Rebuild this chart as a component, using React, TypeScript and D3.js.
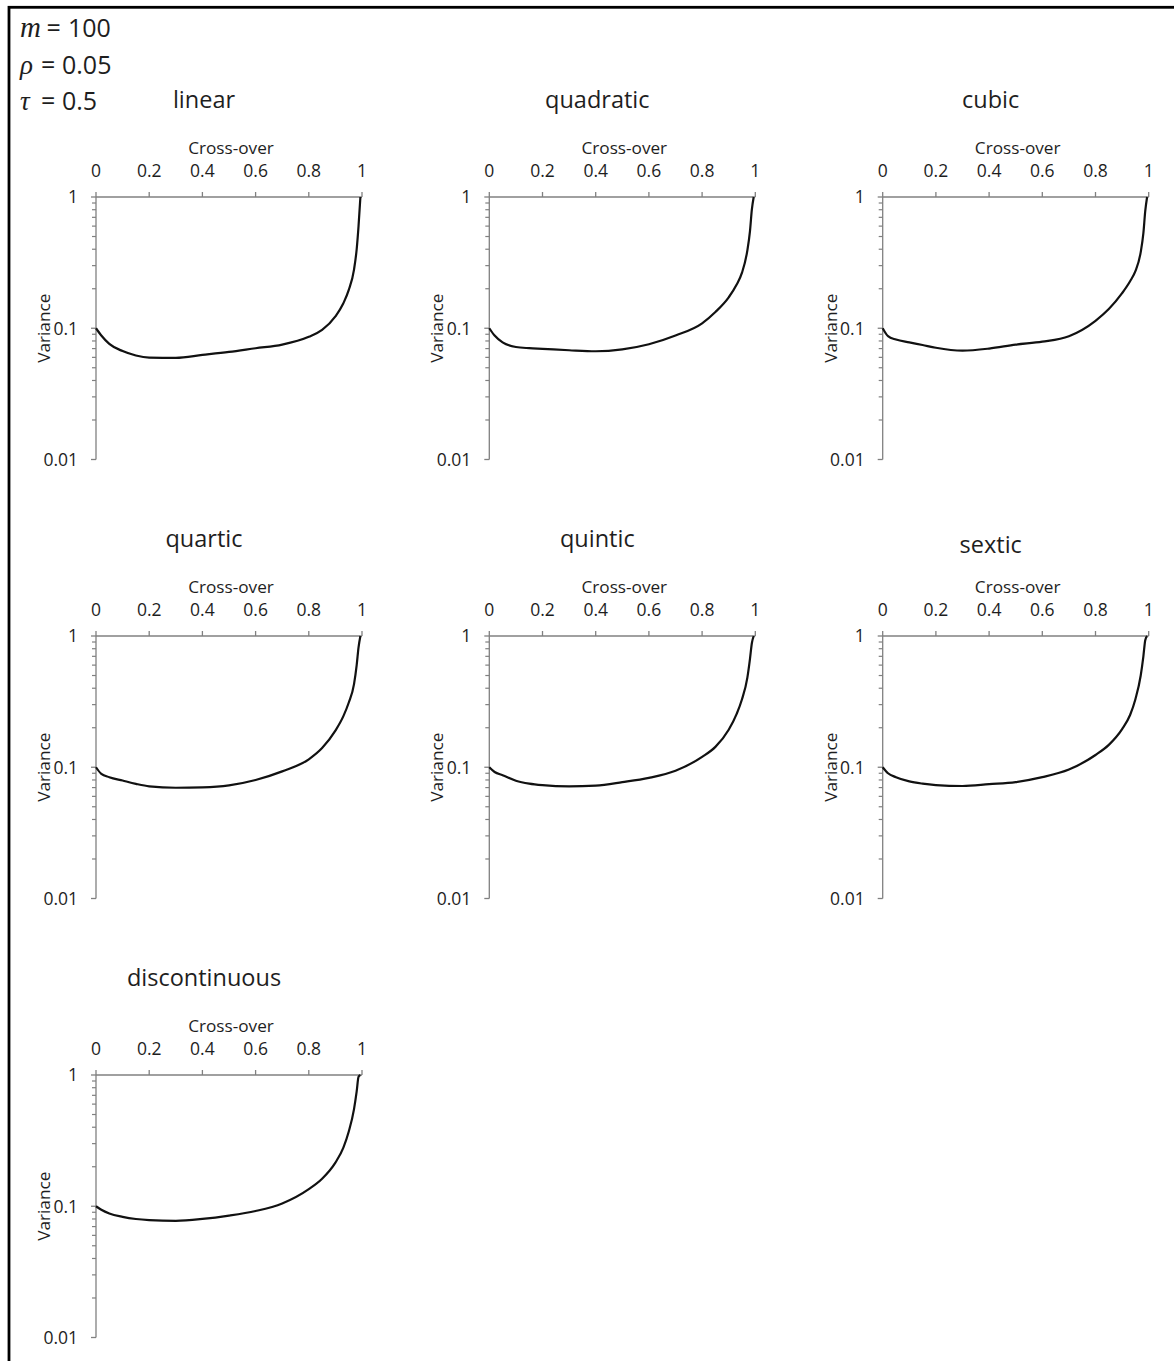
import React from "react";
import * as d3 from "d3";

// ---- data ----
const crossover = [0, 0.02, 0.05, 0.1, 0.15, 0.2, 0.3, 0.4, 0.5, 0.6, 0.7, 0.8, 0.85, 0.9, 0.93, 0.95, 0.97, 0.98, 0.987, 0.994];

const linearVar = [0.1, 0.088, 0.076, 0.067, 0.062, 0.0598, 0.0595, 0.0626, 0.066, 0.0704, 0.075, 0.086, 0.097, 0.123, 0.155, 0.195, 0.28, 0.4, 0.6, 1.0];
const quadraticVar = [0.1, 0.088, 0.078, 0.072, 0.0705, 0.0697, 0.068, 0.0668, 0.069, 0.0755, 0.088, 0.109, 0.133, 0.172, 0.215, 0.265, 0.39, 0.55, 0.8, 1.0];
const cubicVar = [0.1, 0.087, 0.082, 0.078, 0.0745, 0.071, 0.0675, 0.07, 0.075, 0.079, 0.087, 0.114, 0.14, 0.185, 0.228, 0.272, 0.38, 0.53, 0.78, 1.0];
const quarticVar = [0.1, 0.089, 0.084, 0.0792, 0.0748, 0.0716, 0.0698, 0.0703, 0.0728, 0.08, 0.093, 0.115, 0.14, 0.19, 0.245, 0.31, 0.43, 0.6, 0.82, 1.0];
const quinticVar = [0.1, 0.092, 0.087, 0.079, 0.075, 0.073, 0.0715, 0.0725, 0.077, 0.083, 0.094, 0.12, 0.143, 0.193, 0.255, 0.33, 0.48, 0.67, 0.88, 1.0];
const sexticVar = [0.1, 0.09, 0.084, 0.078, 0.075, 0.0732, 0.072, 0.0743, 0.077, 0.084, 0.096, 0.124, 0.148, 0.195, 0.25, 0.33, 0.5, 0.7, 0.93, 1.0];
const discontinuousVar = [0.1, 0.094, 0.088, 0.083, 0.08, 0.0785, 0.0775, 0.08, 0.0848, 0.092, 0.105, 0.135, 0.162, 0.215, 0.28, 0.37, 0.55, 0.75, 0.97, 1.0];

const panelTitles = ["linear", "quadratic", "cubic", "quartic", "quintic", "sextic", "discontinuous"];
const panelSeries = [linearVar, quadraticVar, cubicVar, quarticVar, quinticVar, sexticVar, discontinuousVar];

const xTickValues = [0, 0.2, 0.4, 0.6, 0.8, 1];
const xTickLabels = ["0", "0.2", "0.4", "0.6", "0.8", "1"];
const yMajorValues = [0.01, 0.1, 1];
const yMajorLabels = ["0.01", "0.1", "1"];

const paramSymbols = ["m", "\u03C1", "\u03C4"];
const paramValues = ["100", "0.05", "0.5"];

const xAxisTitle = "Cross-over";
const yAxisTitle = "Variance";

// ---- layout ----
const W = 1174;
const H = 1361;
const FONT = "'Open Sans', 'Liberation Sans', sans-serif";
const SERIF = "'Liberation Serif', 'DejaVu Serif', serif";
const AXIS = "#808080";
const TEXT = "#1e1e1e";

const PW = 266;
const PH = 262.5;
const COL_X = [96, 489.3, 882.7];
const ROW_Y = [197, 636, 1075];
const TITLE_DY = [0, 0, 0, 0, 0, 6, 0];
const PARAM_SYM_SIZE = [29, 27, 27];
const PARAM_EQ_X = [46.5, 41, 41];
const PARAM_VAL_X = [68, 62, 62];

function Panel({ idx }: { idx: number }) {
  const col = idx % 3;
  const row = Math.floor(idx / 3);
  const x0 = COL_X[col];
  const y0 = ROW_Y[row];
  const x = d3.scaleLinear().domain([0, 1]).range([x0, x0 + PW]);
  const y = d3.scaleLog().domain([0.01, 1]).range([y0 + PH, y0]);
  const values = panelSeries[idx];
  const pts: [number, number][] = crossover.map((c, i) => [c, values[i]]);
  const line = d3
    .line<[number, number]>()
    .x((d) => x(d[0]))
    .y((d) => y(d[1]))
    .curve(d3.curveMonotoneX);
  const minor = y.ticks().filter((t) => !yMajorValues.some((m) => Math.abs(m - t) < 1e-9));
  const cx = (x0 + x0 + PW) / 2;
  return (
    <g>
      <text x={cx - 25} y={y0 - 89 + TITLE_DY[idx]} textAnchor="middle" fontFamily={FONT} fontSize={23.5} fill={TEXT}>
        {panelTitles[idx]}
      </text>
      <text x={cx + 2} y={y0 - 43} textAnchor="middle" fontFamily={FONT} fontSize={17.2} fill={TEXT}>
        {xAxisTitle}
      </text>
      {xTickValues.map((t, i) => (
        <g key={"xt" + i}>
          <line x1={x(t)} x2={x(t)} y1={y0} y2={y0 - 5} stroke={AXIS} strokeWidth={1.3} />
          <text x={x(t)} y={y0 - 20} textAnchor="middle" fontFamily={FONT} fontSize={17.5} fill={TEXT}>
            {xTickLabels[i]}
          </text>
        </g>
      ))}
      {minor.map((t, i) => (
        <line key={"mn" + i} x1={x0 - 4} x2={x0} y1={y(t)} y2={y(t)} stroke={AXIS} strokeWidth={1.2} />
      ))}
      {yMajorValues.map((t, i) => (
        <g key={"yt" + i}>
          <line x1={x0 - 5} x2={x0} y1={y(t)} y2={y(t)} stroke={AXIS} strokeWidth={1.3} />
          <text x={x0 - 18} y={y(t)} dy="0.36em" textAnchor="end" fontFamily={FONT} fontSize={17.5} fill={TEXT}>
            {yMajorLabels[i]}
          </text>
        </g>
      ))}
      <line x1={x0} x2={x0 + PW} y1={y0} y2={y0} stroke={AXIS} strokeWidth={1.3} />
      <line x1={x0} x2={x0} y1={y0} y2={y0 + PH} stroke={AXIS} strokeWidth={1.3} />
      <text
        transform={`translate(${x0 - 46},${y0 + PH / 2}) rotate(-90)`}
        textAnchor="middle"
        fontFamily={FONT}
        fontSize={17.2}
        fill={TEXT}
      >
        {yAxisTitle}
      </text>
      <path d={line(pts) || ""} fill="none" stroke="#111" strokeWidth={2.2} strokeLinejoin="round" />
    </g>
  );
}

export default function App() {
  return (
    <svg
      width={W}
      height={H}
      viewBox={`0 0 ${W} ${H}`}
      style={{ position: "absolute", left: 0, top: 0, background: "#fff" }}
    >
      <rect x={0} y={0} width={W} height={H} fill="#fff" />
      <rect x={9} y={7.3} width={W + 50} height={H + 50} fill="none" stroke="#000" strokeWidth={2.8} />
      {paramSymbols.map((s, i) => (
        <g key={"p" + i}>
          <text x={20} y={37 + i * 36.5} fontSize={PARAM_SYM_SIZE[i]} fill={TEXT} fontFamily={SERIF} fontStyle="italic">
            {s}
          </text>
          <text x={PARAM_EQ_X[i]} y={37 + i * 36.5} fontSize={25} fill={TEXT} fontFamily={FONT}>
            =
          </text>
          <text x={PARAM_VAL_X[i]} y={37 + i * 36.5} fontSize={25} fill={TEXT} fontFamily={FONT}>
            {paramValues[i]}
          </text>
        </g>
      ))}
      {panelTitles.map((_, i) => (
        <Panel key={i} idx={i} />
      ))}
    </svg>
  );
}
